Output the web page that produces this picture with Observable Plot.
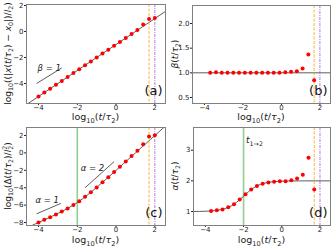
<!DOCTYPE html>
<html>
<head>
<meta charset="utf-8">
<script src="https://cdn.jsdelivr.net/npm/d3@7"></script>
<script src="https://cdn.jsdelivr.net/npm/@observablehq/plot@0.6"></script>
<style>
  html, body { margin: 0; padding: 0; background: #fff; }
  #chart { position: relative; width: 334px; height: 247px; overflow: hidden; font-family: "DejaVu Sans", sans-serif; }
  #chart svg { position: absolute; }
</style>
</head>
<body>
<div id="chart"></div>
<script>
// ---------- data ----------
const tA = [-4.0,-3.7,-3.4,-3.1,-2.8,-2.5,-2.2,-1.9,-1.6,-1.3,-1.0,-0.7,-0.4,-0.1,0.2,0.5,0.8,1.1,1.4,1.7,2.0];
const dispA = [-5.0,-4.7,-4.4,-4.1,-3.8,-3.5,-3.2,-2.9,-2.6,-2.3,-2.0,-1.7,-1.4,-1.1,-0.8,-0.5,-0.2,0.12,0.54,0.97,1.05];
const tMid = [-3.7,-3.4,-3.1,-2.8,-2.5,-2.2,-1.9,-1.6,-1.3,-1.0,-0.7,-0.4,-0.1,0.2,0.5,0.8,1.1,1.4,1.7];
const betaB = [1.00,1.01,1.00,1.00,1.00,1.00,1.00,1.00,1.00,1.00,1.00,1.00,1.00,1.01,1.02,1.03,1.09,1.37,0.85];
const deltaC = [-8.0,-7.69,-7.38,-7.07,-6.74,-6.38,-5.99,-5.55,-5.05,-4.52,-3.96,-3.38,-2.79,-2.20,-1.60,-1.00,-0.36,0.25,0.99,1.90,2.02];
const alphaD = [1.02,1.04,1.07,1.14,1.24,1.39,1.56,1.72,1.83,1.91,1.95,1.97,1.99,1.99,2.02,2.08,2.20,2.75,1.72];

// theory curves
const lineAx = [-4.62, 2.55];
const lineAy = [-5.62, 1.55];
const thX = [-4.62,-4.0,-3.5,-3.0,-2.75,-2.5,-2.25,-2.0,-1.75,-1.5,-1.25,-1.0,-0.75,-0.5,0,0.5,1.0,2.55];
const thDelta = [-8.619,-7.996,-7.486,-6.959,-6.679,-6.381,-6.056,-5.699,-5.306,-4.881,-4.429,-3.959,-3.476,-2.987,-1.996,-0.999,0.0,3.10];
const thAlpha = [1.002,1.010,1.031,1.091,1.151,1.240,1.360,1.500,1.640,1.760,1.849,1.909,1.947,1.969,1.990,1.997,1.999,2.0];

// reference lines
const tOrange = [1.7];
const tPurple = [2.0];
const tCross = [-2.0];
const betaRef = [1.0];

// guide segments (x1, y1, x2, y2) and their labels
const guideBeta = [{x1: -4.1, y1: -4.0, x2: -2.8, y2: -2.8, label: "β = 1", lx: -4.05, ly: -2.85}];
const guideAlpha1 = [{x1: -4.1, y1: -7.0, x2: -2.85, y2: -5.8, label: "α = 1", lx: -3.55, ly: -5.45}];
const guideAlpha2 = [{x1: -1.6, y1: -4.0, x2: -0.1, y2: -1.0, label: "α = 2", lx: -1.22, ly: -1.8}];

// axes
const xDomain = [-4.62, 2.55];
const xTicks = [-4, -2, 0, 2];
const yTicksA = [-4, -2, 0, 2];
const yTicksB = [0.5, 1.0, 1.5, 2.0];
const yTicksC = [-8, -6, -4, -2, 0, 2];
const yTicksD = [1, 2, 3];
const panelLabels = ["(a)", "(b)", "(c)", "(d)"];
const xLabel = "log_{10}(*t*/*τ*_{2})";
const yLabels = [
  "log_{10}((|*x*(*t*/*τ*_{2}) − *x*_{0}|)/*l*_{2})",
  "*β*(*t*/*τ*_{2})",
  "log_{10}(Δ(*t*/*τ*_{2})/*l*_{2}^{2})",
  "*α*(*t*/*τ*_{2})"
];

// ---------- helpers ----------
const RED = "#ff0000", LINE = "#333", ORANGE = "#ffa500", PURPLE = "#a55ad6", GREEN = "#8fd08f";
const chart = document.getElementById("chart");
const intFmt = d => (d < 0 ? "−" + (-d) : String(d));

function parse(s) {
  const parts = []; let i = 0, it = false, buf = "";
  const flush = () => { if (buf) parts.push({t: buf, it}); buf = ""; };
  while (i < s.length) {
    const c = s[i];
    if (c === "*") { flush(); it = !it; i++; }
    else if ((c === "_" || c === "^") && s[i + 1] === "{") {
      flush();
      const j = s.indexOf("}", i);
      parts.push({t: s.slice(i + 2, j), sub: c === "_", sup: c === "^", it: false});
      i = j + 1;
    } else { buf += c; i++; }
  }
  flush();
  return parts;
}

function rich(svg, str, {x, y, rotate = 0, size = 9.5, anchor = "middle"}) {
  const ns = "http://www.w3.org/2000/svg";
  const t = document.createElementNS(ns, "text");
  t.setAttribute("transform", `translate(${x},${y}) rotate(${rotate})`);
  t.setAttribute("text-anchor", anchor);
  t.setAttribute("font-size", size);
  t.setAttribute("font-family", "DejaVu Sans, sans-serif");
  t.setAttribute("fill", "#222");
  t.setAttribute("dy", size * 0.35);
  let shift = 0, prev = null;
  const parts = parse(str);
  parts.forEach((p, k) => {
    const s = document.createElementNS(ns, "tspan");
    const target = p.sub ? size * 0.28 : p.sup ? -size * 0.42 : 0;
    if (k > 0 || target !== 0) s.setAttribute("dy", target - shift);
    shift = target;
    if (p.sub || p.sup) s.setAttribute("font-size", size * 0.7);
    if (p.sup && prev && prev.sub) s.setAttribute("dx", -size * 0.7 * 0.62 * prev.t.length);
    if (p.it) s.setAttribute("font-style", "italic");
    s.textContent = p.t;
    t.appendChild(s);
    prev = p;
  });
  svg.appendChild(t);
  return t;
}

function panel({left, top, height, margins, yDomain, yTicks, yFmt = intFmt, marks, label, yLabel}) {
  const [mt, mr, mb, ml] = margins;
  const width = 167;
  const p = Plot.plot({
    width, height,
    marginTop: mt, marginRight: mr, marginBottom: mb, marginLeft: ml,
    x: {domain: xDomain, ticks: xTicks, tickSize: 2, tickPadding: 0, label: null, tickFormat: intFmt},
    y: {domain: yDomain, ticks: yTicks, tickSize: 2, tickPadding: 1, label: null, tickFormat: yFmt},
    style: {fontFamily: "'DejaVu Sans', sans-serif", fontSize: "7px", color: "#222", background: "transparent", overflow: "visible"},
    marks: [
      ...marks,
      Plot.text([label], {text: d => d, frameAnchor: "bottom-right", dx: -3, dy: -12.5, fontSize: 13, textAnchor: "end", lineAnchor: "middle", fill: "#111"}),
      Plot.frame({stroke: "#808080", strokeWidth: 1})
    ]
  });
  p.style.left = left + "px";
  p.style.top = top + "px";
  chart.appendChild(p);
  const fx = (ml + width - mr) / 2;
  const fy = (mt + height - mb) / 2;
  rich(p, xLabel, {x: fx, y: height - 7, size: 9.5});
  rich(p, yLabel, {x: 7.5, y: fy, rotate: -90, size: 9});
  return p;
}

const vlines = [
  Plot.ruleX(tOrange, {x: d => d, stroke: ORANGE, strokeWidth: 1, strokeDasharray: "3,1.5", strokeOpacity: 0.8}),
  Plot.ruleX(tPurple, {x: d => d, stroke: PURPLE, strokeWidth: 1, strokeDasharray: "3,1,1,1", strokeOpacity: 0.8})
];
const greenLine = Plot.ruleX(tCross, {x: d => d, stroke: GREEN, strokeWidth: 1.6});

// ---------- panel (a) ----------
panel({
  left: 0, top: 0, height: 124, margins: [4, 2, 21, 26],
  yDomain: [-5.54, 2.08], yTicks: yTicksA, label: panelLabels[0], yLabel: yLabels[0],
  marks: [
    Plot.line(lineAx.map((x, i) => ({x, y: lineAy[i]})), {x: "x", y: "y", stroke: LINE, strokeWidth: 0.8, clip: true}),
    Plot.link(guideBeta, {x1: "x1", y1: "y1", x2: "x2", y2: "y2", stroke: LINE, strokeWidth: 0.8}),
    Plot.text(guideBeta, {x: "lx", y: "ly", text: "label", textAnchor: "start", fontSize: 8.5, fontStyle: "italic", fill: "#222"}),
    ...vlines,
    Plot.dot(tA.map((x, i) => ({x, y: dispA[i]})), {x: "x", y: "y", r: 2.0, fill: RED, stroke: "none"})
  ]
});

// ---------- panel (b) ----------
panel({
  left: 167, top: 0, height: 124, margins: [5, 4, 21, 25],
  yDomain: [0.378, 2.365], yTicks: yTicksB, yFmt: d3.format(".1f"), label: panelLabels[1], yLabel: yLabels[1],
  marks: [
    Plot.ruleY(betaRef, {y: d => d, stroke: LINE, strokeWidth: 0.8}),
    ...vlines,
    Plot.dot(tMid.map((x, i) => ({x, y: betaB[i]})), {x: "x", y: "y", r: 2.0, fill: RED, stroke: "none"})
  ]
});

// ---------- panel (c) ----------
panel({
  left: 0, top: 124, height: 123, margins: [3, 2, 22, 26],
  yDomain: [-8.34, 2.92], yTicks: yTicksC, label: panelLabels[2], yLabel: yLabels[2],
  marks: [
    greenLine,
    Plot.line(thX.map((x, i) => ({x, y: thDelta[i]})), {x: "x", y: "y", stroke: LINE, strokeWidth: 0.8, curve: "monotone-x", clip: true}),
    Plot.link([...guideAlpha1, ...guideAlpha2], {x1: "x1", y1: "y1", x2: "x2", y2: "y2", stroke: LINE, strokeWidth: 0.8}),
    Plot.text([...guideAlpha1, ...guideAlpha2], {x: "lx", y: "ly", text: "label", textAnchor: "middle", fontSize: 8.5, fontStyle: "italic", fill: "#222"}),
    ...vlines,
    Plot.dot(tA.map((x, i) => ({x, y: deltaC[i]})), {x: "x", y: "y", r: 2.0, fill: RED, stroke: "none"})
  ]
});

// ---------- panel (d) ----------
const pd = panel({
  left: 167, top: 124, height: 123, margins: [3, 4, 22, 26],
  yDomain: [0.545, 3.74], yTicks: yTicksD, label: panelLabels[3], yLabel: yLabels[3],
  marks: [
    greenLine,
    Plot.line(thX.map((x, i) => ({x, y: thAlpha[i]})), {x: "x", y: "y", stroke: LINE, strokeWidth: 0.8, curve: "monotone-x", clip: true}),
    ...vlines,
    Plot.dot(tMid.map((x, i) => ({x, y: alphaD[i]})), {x: "x", y: "y", r: 2.0, fill: RED, stroke: "none"})
  ]
});
rich(pd, "*t*_{1→2}", {x: pd.scale("x").apply(tCross[0]) + 3, y: pd.scale("y").apply(3.31), size: 9, anchor: "start"});
</script>
</body>
</html>
